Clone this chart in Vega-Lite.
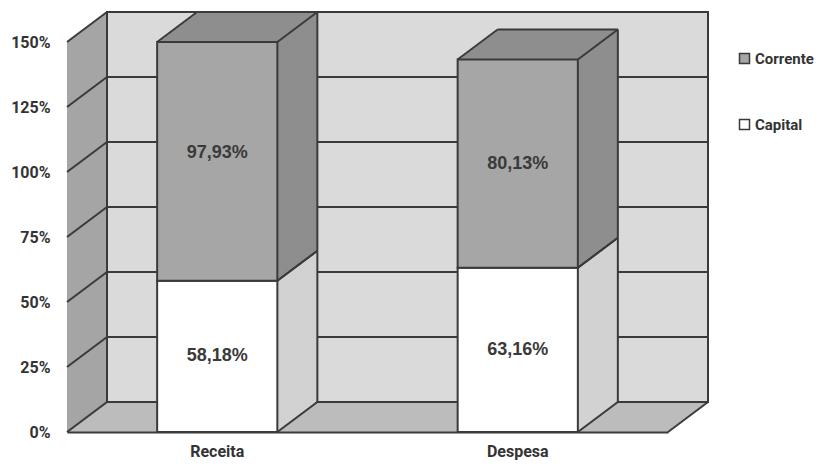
{
  "$schema": "https://vega.github.io/schema/vega-lite/v6.json",
  "width": 601,
  "height": 390,
  "autosize": {"type": "none"},
  "padding": {"left": 67, "top": 42, "right": 151, "bottom": 34},
  "background": "white",
  "datasets": {
    "main": [
      {"cat": "Receita", "serie": "Capital", "valor": 58.18},
      {"cat": "Receita", "serie": "Corrente", "valor": 97.93},
      {"cat": "Despesa", "serie": "Capital", "valor": 63.16},
      {"cat": "Despesa", "serie": "Corrente", "valor": 80.13}
    ],
    "grid": [{"v": 0}, {"v": 25}, {"v": 50}, {"v": 75}, {"v": 100}, {"v": 125}, {"v": 150}],
    "frame": [{"parte": "parede"}]
  },
  "layer": [
    {
      "data": {"name": "frame"},
      "encoding": {
        "x": {"datum": 0, "type": "quantitative", "scale": {"domain": [0, 1]}, "axis": null},
        "x2": {"datum": 1}
      },
      "layer": [
        {
          "encoding": {
            "y": {"datum": 0, "type": "quantitative", "title": null, "scale": {"domain": [0, 150], "nice": false, "clamp": true}},
            "y2": {"datum": 150}
          },
          "layer": [
            {"mark": {"type": "rect", "fill": "#bcbcbc", "xOffset": 0, "x2Offset": 0, "yOffset": 0, "y2Offset": 0}},
            {"mark": {"type": "rect", "fill": "#bcbcbc", "xOffset": 2, "x2Offset": 2, "yOffset": -1.5, "y2Offset": -1.5}},
            {"mark": {"type": "rect", "fill": "#bcbcbc", "xOffset": 4, "x2Offset": 4, "yOffset": -3, "y2Offset": -3}},
            {"mark": {"type": "rect", "fill": "#bcbcbc", "xOffset": 6, "x2Offset": 6, "yOffset": -4.5, "y2Offset": -4.5}},
            {"mark": {"type": "rect", "fill": "#bcbcbc", "xOffset": 8, "x2Offset": 8, "yOffset": -6, "y2Offset": -6}},
            {"mark": {"type": "rect", "fill": "#bcbcbc", "xOffset": 10, "x2Offset": 10, "yOffset": -7.5, "y2Offset": -7.5}},
            {"mark": {"type": "rect", "fill": "#bcbcbc", "xOffset": 12, "x2Offset": 12, "yOffset": -9, "y2Offset": -9}},
            {"mark": {"type": "rect", "fill": "#bcbcbc", "xOffset": 14, "x2Offset": 14, "yOffset": -10.5, "y2Offset": -10.5}},
            {"mark": {"type": "rect", "fill": "#bcbcbc", "xOffset": 16, "x2Offset": 16, "yOffset": -12, "y2Offset": -12}},
            {"mark": {"type": "rect", "fill": "#bcbcbc", "xOffset": 18, "x2Offset": 18, "yOffset": -13.5, "y2Offset": -13.5}},
            {"mark": {"type": "rect", "fill": "#bcbcbc", "xOffset": 20, "x2Offset": 20, "yOffset": -15, "y2Offset": -15}},
            {"mark": {"type": "rect", "fill": "#bcbcbc", "xOffset": 22, "x2Offset": 22, "yOffset": -16.5, "y2Offset": -16.5}},
            {"mark": {"type": "rect", "fill": "#bcbcbc", "xOffset": 24, "x2Offset": 24, "yOffset": -18, "y2Offset": -18}},
            {"mark": {"type": "rect", "fill": "#bcbcbc", "xOffset": 26, "x2Offset": 26, "yOffset": -19.5, "y2Offset": -19.5}},
            {"mark": {"type": "rect", "fill": "#bcbcbc", "xOffset": 28, "x2Offset": 28, "yOffset": -21, "y2Offset": -21}},
            {"mark": {"type": "rect", "fill": "#bcbcbc", "xOffset": 30, "x2Offset": 30, "yOffset": -22.5, "y2Offset": -22.5}},
            {"mark": {"type": "rect", "fill": "#bcbcbc", "xOffset": 32, "x2Offset": 32, "yOffset": -24, "y2Offset": -24}},
            {"mark": {"type": "rect", "fill": "#bcbcbc", "xOffset": 34, "x2Offset": 34, "yOffset": -25.5, "y2Offset": -25.5}},
            {"mark": {"type": "rect", "fill": "#bcbcbc", "xOffset": 36, "x2Offset": 36, "yOffset": -27, "y2Offset": -27}},
            {"mark": {"type": "rect", "fill": "#bcbcbc", "xOffset": 38, "x2Offset": 38, "yOffset": -28.5, "y2Offset": -28.5}},
            {"mark": {"type": "rect", "fill": "#a5a5a5", "xOffset": 0, "x2Offset": 2.5, "yOffset": 0, "y2Offset": 0}, "encoding": {"x2": {"datum": 0}}},
            {"mark": {"type": "rect", "fill": "#a5a5a5", "xOffset": 2, "x2Offset": 4.5, "yOffset": -1.5, "y2Offset": -1.5}, "encoding": {"x2": {"datum": 0}}},
            {"mark": {"type": "rect", "fill": "#a5a5a5", "xOffset": 4, "x2Offset": 6.5, "yOffset": -3, "y2Offset": -3}, "encoding": {"x2": {"datum": 0}}},
            {"mark": {"type": "rect", "fill": "#a5a5a5", "xOffset": 6, "x2Offset": 8.5, "yOffset": -4.5, "y2Offset": -4.5}, "encoding": {"x2": {"datum": 0}}},
            {"mark": {"type": "rect", "fill": "#a5a5a5", "xOffset": 8, "x2Offset": 10.5, "yOffset": -6, "y2Offset": -6}, "encoding": {"x2": {"datum": 0}}},
            {"mark": {"type": "rect", "fill": "#a5a5a5", "xOffset": 10, "x2Offset": 12.5, "yOffset": -7.5, "y2Offset": -7.5}, "encoding": {"x2": {"datum": 0}}},
            {"mark": {"type": "rect", "fill": "#a5a5a5", "xOffset": 12, "x2Offset": 14.5, "yOffset": -9, "y2Offset": -9}, "encoding": {"x2": {"datum": 0}}},
            {"mark": {"type": "rect", "fill": "#a5a5a5", "xOffset": 14, "x2Offset": 16.5, "yOffset": -10.5, "y2Offset": -10.5}, "encoding": {"x2": {"datum": 0}}},
            {"mark": {"type": "rect", "fill": "#a5a5a5", "xOffset": 16, "x2Offset": 18.5, "yOffset": -12, "y2Offset": -12}, "encoding": {"x2": {"datum": 0}}},
            {"mark": {"type": "rect", "fill": "#a5a5a5", "xOffset": 18, "x2Offset": 20.5, "yOffset": -13.5, "y2Offset": -13.5}, "encoding": {"x2": {"datum": 0}}},
            {"mark": {"type": "rect", "fill": "#a5a5a5", "xOffset": 20, "x2Offset": 22.5, "yOffset": -15, "y2Offset": -15}, "encoding": {"x2": {"datum": 0}}},
            {"mark": {"type": "rect", "fill": "#a5a5a5", "xOffset": 22, "x2Offset": 24.5, "yOffset": -16.5, "y2Offset": -16.5}, "encoding": {"x2": {"datum": 0}}},
            {"mark": {"type": "rect", "fill": "#a5a5a5", "xOffset": 24, "x2Offset": 26.5, "yOffset": -18, "y2Offset": -18}, "encoding": {"x2": {"datum": 0}}},
            {"mark": {"type": "rect", "fill": "#a5a5a5", "xOffset": 26, "x2Offset": 28.5, "yOffset": -19.5, "y2Offset": -19.5}, "encoding": {"x2": {"datum": 0}}},
            {"mark": {"type": "rect", "fill": "#a5a5a5", "xOffset": 28, "x2Offset": 30.5, "yOffset": -21, "y2Offset": -21}, "encoding": {"x2": {"datum": 0}}},
            {"mark": {"type": "rect", "fill": "#a5a5a5", "xOffset": 30, "x2Offset": 32.5, "yOffset": -22.5, "y2Offset": -22.5}, "encoding": {"x2": {"datum": 0}}},
            {"mark": {"type": "rect", "fill": "#a5a5a5", "xOffset": 32, "x2Offset": 34.5, "yOffset": -24, "y2Offset": -24}, "encoding": {"x2": {"datum": 0}}},
            {"mark": {"type": "rect", "fill": "#a5a5a5", "xOffset": 34, "x2Offset": 36.5, "yOffset": -25.5, "y2Offset": -25.5}, "encoding": {"x2": {"datum": 0}}},
            {"mark": {"type": "rect", "fill": "#a5a5a5", "xOffset": 36, "x2Offset": 38.5, "yOffset": -27, "y2Offset": -27}, "encoding": {"x2": {"datum": 0}}},
            {"mark": {"type": "rect", "fill": "#a5a5a5", "xOffset": 38, "x2Offset": 40.5, "yOffset": -28.5, "y2Offset": -28.5}, "encoding": {"x2": {"datum": 0}}},
            {"mark": {"type": "rect", "fill": "#dadada", "stroke": "#3a3a3a", "strokeWidth": 2, "xOffset": 40, "x2Offset": 40, "yOffset": -30, "y2Offset": -30}}
          ]
        },
        {
          "data": {"name": "grid"},
          "mark": {"type": "rect", "fillOpacity": 0, "stroke": "#3a3a3a", "strokeWidth": 2, "xOffset": 40, "x2Offset": 40, "yOffset": -30, "y2Offset": -30},
          "encoding": {"y": {"field": "v", "type": "quantitative", "title": null}, "y2": {"field": "v"}}
        },
        {
          "data": {"name": "grid"},
          "mark": {"type": "rule", "stroke": "#3a3a3a", "strokeWidth": 2, "x2Offset": 40, "y2Offset": -30},
          "encoding": {"x2": {"datum": 0}, "y": {"field": "v", "type": "quantitative", "title": null}, "y2": {"field": "v"}}
        },
        {
          "mark": {"type": "rule", "stroke": "#3a3a3a", "strokeWidth": 2, "x2Offset": 40, "y2Offset": -30},
          "encoding": {"x": {"datum": 1, "type": "quantitative", "axis": null}, "x2": {"datum": 1}, "y": {"datum": 0, "type": "quantitative", "title": null}, "y2": {"datum": 0}}
        }
      ]
    },
    {
      "data": {"name": "main"},
      "transform": [
        {"stack": "valor", "groupby": ["cat"], "sort": [{"field": "serie", "order": "ascending"}], "as": ["v0", "v1"]}
      ],
      "encoding": {
        "x": {"field": "cat", "type": "nominal", "sort": ["Receita", "Despesa"], "scale": {"paddingInner": 0, "paddingOuter": 0},
          "axis": {"title": null, "ticks": false, "domainColor": "#3a3a3a", "domainWidth": 2, "labelPadding": 11, "labelFont": "Roboto", "labelFontSize": 16, "labelFontWeight": "bold", "labelColor": "#333333", "labelAngle": 0, "zindex": 1}},
        "y": {"field": "v0", "type": "quantitative", "title": null, "scale": {"domain": [0, 150], "nice": false, "clamp": true},
          "axis": {"values": [0, 25, 50, 75, 100, 125, 150], "format": "$d", "title": null, "ticks": false, "grid": false, "domain": false, "labelPadding": 17, "labelFont": "Roboto", "labelFontSize": 16, "labelFontWeight": "bold", "labelColor": "#333333", "zindex": 1}}
      },
      "layer": [
        {
          "encoding": {"y2": {"field": "v1"}},
          "layer": [
            {"mark": {"type": "bar", "width": {"band": 0.4}, "xOffset": 40, "x2Offset": 40, "yOffset": -30, "y2Offset": -30}, "encoding": {"fill": {"condition": {"test": "datum.serie === 'Corrente'", "value": "#8e8e8e"}, "value": "#d2d2d2"}}},
            {"mark": {"type": "bar", "width": {"band": 0.4}, "xOffset": 38, "x2Offset": 38, "yOffset": -28.5, "y2Offset": -28.5}, "encoding": {"fill": {"condition": {"test": "datum.serie === 'Corrente'", "value": "#8e8e8e"}, "value": "#d2d2d2"}}},
            {"mark": {"type": "bar", "width": {"band": 0.4}, "xOffset": 36, "x2Offset": 36, "yOffset": -27, "y2Offset": -27}, "encoding": {"fill": {"condition": {"test": "datum.serie === 'Corrente'", "value": "#8e8e8e"}, "value": "#d2d2d2"}}},
            {"mark": {"type": "bar", "width": {"band": 0.4}, "xOffset": 34, "x2Offset": 34, "yOffset": -25.5, "y2Offset": -25.5}, "encoding": {"fill": {"condition": {"test": "datum.serie === 'Corrente'", "value": "#8e8e8e"}, "value": "#d2d2d2"}}},
            {"mark": {"type": "bar", "width": {"band": 0.4}, "xOffset": 32, "x2Offset": 32, "yOffset": -24, "y2Offset": -24}, "encoding": {"fill": {"condition": {"test": "datum.serie === 'Corrente'", "value": "#8e8e8e"}, "value": "#d2d2d2"}}},
            {"mark": {"type": "bar", "width": {"band": 0.4}, "xOffset": 30, "x2Offset": 30, "yOffset": -22.5, "y2Offset": -22.5}, "encoding": {"fill": {"condition": {"test": "datum.serie === 'Corrente'", "value": "#8e8e8e"}, "value": "#d2d2d2"}}},
            {"mark": {"type": "bar", "width": {"band": 0.4}, "xOffset": 28, "x2Offset": 28, "yOffset": -21, "y2Offset": -21}, "encoding": {"fill": {"condition": {"test": "datum.serie === 'Corrente'", "value": "#8e8e8e"}, "value": "#d2d2d2"}}},
            {"mark": {"type": "bar", "width": {"band": 0.4}, "xOffset": 26, "x2Offset": 26, "yOffset": -19.5, "y2Offset": -19.5}, "encoding": {"fill": {"condition": {"test": "datum.serie === 'Corrente'", "value": "#8e8e8e"}, "value": "#d2d2d2"}}},
            {"mark": {"type": "bar", "width": {"band": 0.4}, "xOffset": 24, "x2Offset": 24, "yOffset": -18, "y2Offset": -18}, "encoding": {"fill": {"condition": {"test": "datum.serie === 'Corrente'", "value": "#8e8e8e"}, "value": "#d2d2d2"}}},
            {"mark": {"type": "bar", "width": {"band": 0.4}, "xOffset": 22, "x2Offset": 22, "yOffset": -16.5, "y2Offset": -16.5}, "encoding": {"fill": {"condition": {"test": "datum.serie === 'Corrente'", "value": "#8e8e8e"}, "value": "#d2d2d2"}}},
            {"mark": {"type": "bar", "width": {"band": 0.4}, "xOffset": 20, "x2Offset": 20, "yOffset": -15, "y2Offset": -15}, "encoding": {"fill": {"condition": {"test": "datum.serie === 'Corrente'", "value": "#8e8e8e"}, "value": "#d2d2d2"}}},
            {"mark": {"type": "bar", "width": {"band": 0.4}, "xOffset": 18, "x2Offset": 18, "yOffset": -13.5, "y2Offset": -13.5}, "encoding": {"fill": {"condition": {"test": "datum.serie === 'Corrente'", "value": "#8e8e8e"}, "value": "#d2d2d2"}}},
            {"mark": {"type": "bar", "width": {"band": 0.4}, "xOffset": 16, "x2Offset": 16, "yOffset": -12, "y2Offset": -12}, "encoding": {"fill": {"condition": {"test": "datum.serie === 'Corrente'", "value": "#8e8e8e"}, "value": "#d2d2d2"}}},
            {"mark": {"type": "bar", "width": {"band": 0.4}, "xOffset": 14, "x2Offset": 14, "yOffset": -10.5, "y2Offset": -10.5}, "encoding": {"fill": {"condition": {"test": "datum.serie === 'Corrente'", "value": "#8e8e8e"}, "value": "#d2d2d2"}}},
            {"mark": {"type": "bar", "width": {"band": 0.4}, "xOffset": 12, "x2Offset": 12, "yOffset": -9, "y2Offset": -9}, "encoding": {"fill": {"condition": {"test": "datum.serie === 'Corrente'", "value": "#8e8e8e"}, "value": "#d2d2d2"}}},
            {"mark": {"type": "bar", "width": {"band": 0.4}, "xOffset": 10, "x2Offset": 10, "yOffset": -7.5, "y2Offset": -7.5}, "encoding": {"fill": {"condition": {"test": "datum.serie === 'Corrente'", "value": "#8e8e8e"}, "value": "#d2d2d2"}}},
            {"mark": {"type": "bar", "width": {"band": 0.4}, "xOffset": 8, "x2Offset": 8, "yOffset": -6, "y2Offset": -6}, "encoding": {"fill": {"condition": {"test": "datum.serie === 'Corrente'", "value": "#8e8e8e"}, "value": "#d2d2d2"}}},
            {"mark": {"type": "bar", "width": {"band": 0.4}, "xOffset": 6, "x2Offset": 6, "yOffset": -4.5, "y2Offset": -4.5}, "encoding": {"fill": {"condition": {"test": "datum.serie === 'Corrente'", "value": "#8e8e8e"}, "value": "#d2d2d2"}}},
            {"mark": {"type": "bar", "width": {"band": 0.4}, "xOffset": 4, "x2Offset": 4, "yOffset": -3, "y2Offset": -3}, "encoding": {"fill": {"condition": {"test": "datum.serie === 'Corrente'", "value": "#8e8e8e"}, "value": "#d2d2d2"}}},
            {"mark": {"type": "bar", "width": {"band": 0.4}, "xOffset": 2, "x2Offset": 2, "yOffset": -1.5, "y2Offset": -1.5}, "encoding": {"fill": {"condition": {"test": "datum.serie === 'Corrente'", "value": "#8e8e8e"}, "value": "#d2d2d2"}}},
            {
              "mark": {"type": "rule", "stroke": "#3a3a3a", "strokeWidth": 2, "x2Offset": 40, "y2Offset": -30},
              "encoding": {"x": {"field": "cat", "type": "nominal", "sort": ["Receita", "Despesa"], "bandPosition": 0.7}, "x2": {"field": "cat", "bandPosition": 0.7}, "y": {"field": "v1", "type": "quantitative", "title": null}, "y2": {"field": "v1"}}
            },
            {
              "mark": {"type": "rule", "stroke": "#3a3a3a", "strokeWidth": 2, "x2Offset": 40, "y2Offset": -30},
              "encoding": {"x": {"field": "cat", "type": "nominal", "sort": ["Receita", "Despesa"], "bandPosition": 0.7}, "x2": {"field": "cat", "bandPosition": 0.7}, "y2": {"field": "v0"}}
            },
            {
              "transform": [{"filter": "datum.serie === 'Corrente'"}],
              "mark": {"type": "rule", "stroke": "#3a3a3a", "strokeWidth": 2, "x2Offset": 40, "y2Offset": -30},
              "encoding": {"x": {"field": "cat", "type": "nominal", "sort": ["Receita", "Despesa"], "bandPosition": 0.3}, "x2": {"field": "cat", "bandPosition": 0.3}, "y": {"field": "v1", "type": "quantitative", "title": null}, "y2": {"field": "v1"}}
            },
            {
              "transform": [{"filter": "datum.serie === 'Corrente'"}],
              "mark": {"type": "rule", "stroke": "#3a3a3a", "strokeWidth": 2, "xOffset": 40, "x2Offset": 40, "yOffset": -30, "y2Offset": -30},
              "encoding": {"x": {"field": "cat", "type": "nominal", "sort": ["Receita", "Despesa"], "bandPosition": 0.3}, "x2": {"field": "cat", "bandPosition": 0.7}, "y": {"field": "v1", "type": "quantitative", "title": null}, "y2": {"field": "v1"}}
            },
            {
              "mark": {"type": "rule", "stroke": "#3a3a3a", "strokeWidth": 2, "xOffset": 40, "x2Offset": 40, "yOffset": -30, "y2Offset": -30},
              "encoding": {"x": {"field": "cat", "type": "nominal", "sort": ["Receita", "Despesa"], "bandPosition": 0.7}, "x2": {"field": "cat", "bandPosition": 0.7}}
            },
            {
              "mark": {"type": "bar", "width": {"band": 0.4}, "stroke": "#3a3a3a", "strokeWidth": 2},
              "encoding": {
                "color": {"field": "serie", "type": "nominal", "scale": {"domain": ["Corrente", "Capital"], "range": ["#a6a6a6", "#ffffff"]},
                  "legend": {"orient": "none", "legendX": 670, "legendY": 9, "title": null, "padding": 0, "symbolType": "square", "symbolSize": 100, "symbolStrokeColor": "#3a3a3a", "symbolStrokeWidth": 1.5, "labelFont": "Roboto", "labelFontSize": 15, "labelFontWeight": "bold", "labelColor": "#333333", "labelOffset": 3, "rowPadding": 49}}
              }
            }
          ]
        },
        {
          "transform": [{"fold": ["v0", "v1"], "as": ["lim", "pos"]}],
          "mark": {"type": "text", "font": "Liberation Sans", "fontWeight": "bold", "fontSize": 18, "fill": "#3a3a3a"},
          "encoding": {
            "y": {"aggregate": "mean", "field": "pos", "type": "quantitative", "title": null, "stack": null},
            "text": {"field": "valor", "type": "quantitative", "format": "$.2f"}
          }
        }
      ]
    }
  ],
  "resolve": {"scale": {"x": "independent"}},
  "config": {
    "view": {"stroke": null},
    "locale": {"number": {"decimal": ",", "thousands": ".", "grouping": [3], "currency": ["", "%"]}}
  }
}
